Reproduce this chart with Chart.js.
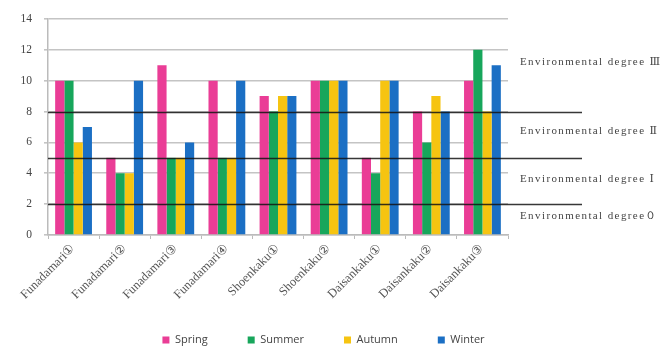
<!DOCTYPE html>
<html>
<head>
<meta charset="utf-8">
<script src="https://cdn.jsdelivr.net/npm/chart.js@4/dist/chart.umd.min.js"></script>
<style>
  html, body { margin: 0; padding: 0; background: #fff; }
  #wrap { width: 672px; height: 348px; }
</style>
</head>
<body>
<div id="wrap"><canvas id="c" width="672" height="348"></canvas></div>
<script>
// Survey sites
const sites = ['Funadamari①', 'Funadamari②', 'Funadamari③', 'Funadamari④',
  'Shoenkaku①', 'Shoenkaku②', 'Daisankaku①', 'Daisankaku②', 'Daisankaku③'];

// Seasonal scores per site
const spring = [10, 5, 11, 10, 9, 10, 5, 8, 10];
const summer = [10, 4, 5, 5, 8, 10, 4, 6, 12];
const autumn = [6, 4, 5, 5, 9, 10, 10, 9, 8];
const winter = [7, 10, 6, 10, 9, 10, 10, 8, 11];

// Boundaries between environmental degrees and the band labels
const thresholds = [2, 5, 8];
const bandLabels = ['Environmental degree０', 'Environmental degree Ⅰ', 'Environmental degree Ⅱ', 'Environmental degree Ⅲ'];
const bandMid = [1.2, 3.6, 6.7, 11.2];

const serif = '"Liberation Serif", "DejaVu Serif", serif';
const LEGEND_PAD = 40;

// Places the legend row at the foot of the figure, lets the slanted site
// names run below the axis box, and draws the degree boundary lines with
// the band names in the right margin.
const degreeBands = {
  id: 'degreeBands',
  afterLayout(chart) {
    const lg = chart.legend;
    if (lg) {
      lg.left = 0;
      lg.right = 647;
      lg.top = 340 - LEGEND_PAD - 5.5;
      lg.bottom = chart.height;
    }
    const x = chart.scales.x;
    if (x) x.bottom = 326;
  },
  afterDatasetsDraw(chart) {
    const { ctx, chartArea } = chart;
    const y = chart.scales.y;
    ctx.save();
    ctx.strokeStyle = 'rgba(20,20,20,0.85)';
    ctx.lineWidth = 1.6;
    thresholds.forEach(v => {
      const py = Math.round(y.getPixelForValue(v)) + 0.5;
      ctx.beginPath();
      ctx.moveTo(chartArea.left, py);
      ctx.lineTo(chartArea.right + 74, py);
      ctx.stroke();
    });
    ctx.fillStyle = '#444';
    ctx.font = '11px ' + serif;
    ctx.letterSpacing = '1.4px';
    ctx.textBaseline = 'middle';
    ctx.textAlign = 'left';
    bandLabels.forEach((t, i) => {
      ctx.fillText(t, chartArea.right + 12, y.getPixelForValue(bandMid[i]));
    });
    ctx.restore();
  }
};

new Chart(document.getElementById('c'), {
  type: 'bar',
  data: {
    labels: sites,
    datasets: [
      { label: 'Spring', data: spring, backgroundColor: '#ea3d96' },
      { label: 'Summer', data: summer, backgroundColor: '#17a65b' },
      { label: 'Autumn', data: autumn, backgroundColor: '#f6c411' },
      { label: 'Winter', data: winter, backgroundColor: '#1b6fc4' }
    ]
  },
  options: {
    responsive: false,
    animation: false,
    layout: { padding: { left: 0, right: 164, top: 9, bottom: 0 } },
    datasets: { bar: { categoryPercentage: 0.72, barPercentage: 1.0 } },
    plugins: {
      legend: {
        position: 'bottom',
        maxHeight: 30,
        labels: {
          boxWidth: 7, boxHeight: 7, padding: LEGEND_PAD,
          color: '#444',
          font: { family: '"Open Sans", "Liberation Sans", sans-serif', size: 11 }
        }
      },
      tooltip: { enabled: false }
    },
    scales: {
      x: {
        afterFit(scale) { scale.height = 83; },
        grid: { display: true, drawOnChartArea: false, color: '#bbb', tickLength: 4, offset: true },
        border: { color: '#bbb', width: 1.5 },
        ticks: {
          maxRotation: 45, minRotation: 45, autoSkip: false,
          color: '#555', padding: 2,
          font: { family: serif, size: 12.5 }
        }
      },
      y: {
        min: 0, max: 14,
        afterFit(scale) { scale.width = 48; },
        ticks: { stepSize: 2, color: '#444', padding: 12, font: { family: serif, size: 11.5 } },
        grid: { color: '#c4c4c4', lineWidth: 1.6, tickLength: 4 },
        border: { color: '#bbb', width: 1.5 }
      }
    }
  },
  plugins: [degreeBands]
});
</script>
</body>
</html>
